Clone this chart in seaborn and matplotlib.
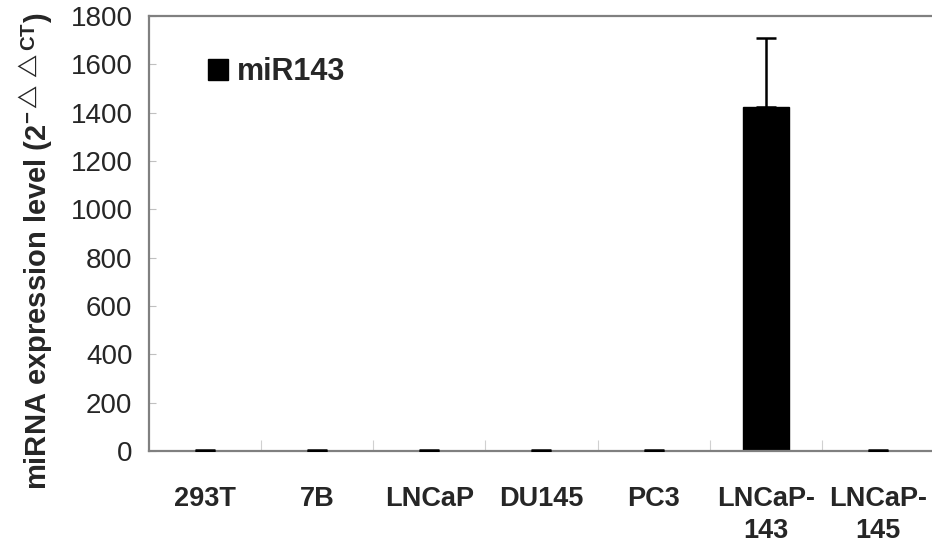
import matplotlib
matplotlib.use("Agg")
import matplotlib.pyplot as plt
import seaborn as sns
import pandas as pd
from matplotlib.ticker import FixedLocator

sns.set_theme(style="white")
plt.rcParams["font.family"] = ["Liberation Sans", "DejaVu Sans"]
plt.rcParams["mathtext.fontset"] = "custom"
plt.rcParams["mathtext.rm"] = "Liberation Sans:bold"
plt.rcParams["mathtext.bf"] = "Liberation Sans:bold"
plt.rcParams["mathtext.it"] = "Liberation Sans:bold"
plt.rcParams["mathtext.sf"] = "Liberation Sans:bold"

# expression data (2^-ddCT)
cell_lines = ["293T", "7B", "LNCaP", "DU145", "PC3", "LNCaP-\n143", "LNCaP-\n145"]
expression = [1.0, 1.0, 1.0, 1.0, 1.0, 1423.0, 1.0]
expression_err = [2.0, 2.0, 2.0, 2.0, 2.0, 286.0, 2.0]
series_name = "miR143"
y_ticks = [0, 200, 400, 600, 800, 1000, 1200, 1400, 1600, 1800]

df = pd.DataFrame({"cell": cell_lines, "value": expression})

fig = plt.figure(figsize=(9.32, 5.46), dpi=100)
ax = fig.add_axes([0.16, 0.174, 0.842, 0.797])

sns.barplot(data=df, x="cell", y="value", color="black", width=0.41,
            errorbar=None, saturation=1, label=series_name, ax=ax)
for p in ax.patches:
    p.set_facecolor("black")
    p.set_edgecolor("black")

positions = list(range(len(cell_lines)))
ax.errorbar(positions, expression,
            yerr=[[0] * len(expression_err), expression_err],
            fmt="none", ecolor="black", elinewidth=1.8, capsize=7, capthick=1.8,
            zorder=3)

ax.set_xlim(-0.5, len(cell_lines) - 0.5)
ax.set_ylim(0, 1800)
ax.yaxis.set_major_locator(FixedLocator(y_ticks))

# category separators along the x axis
ax.xaxis.set_minor_locator(FixedLocator([i + 0.5 for i in range(len(cell_lines) - 1)]))
ax.tick_params(axis="x", which="major", length=0, pad=25, labelsize=19.5)
ax.tick_params(axis="x", which="minor", direction="in", length=8, width=0.8,
               color="#d0d0d0", bottom=True)
ax.tick_params(axis="y", which="major", direction="in", length=5, width=0.8,
               color="#c0c0c0", left=True, labelsize=20, pad=12)
for lbl in ax.get_xticklabels():
    lbl.set_fontweight("bold")
    lbl.set_linespacing(1.3)
    lbl.set_verticalalignment("top")

for side in ["left", "bottom", "top", "right"]:
    ax.spines[side].set_visible(True)
    ax.spines[side].set_color("#808080")
    ax.spines[side].set_linewidth(1.6)

ax.set_xlabel("")
ax.set_ylabel(r"miRNA expression level (2$^{-\triangle\triangle \mathrm{CT}}$)",
              fontsize=21, fontweight="bold")
ax.yaxis.set_label_coords(-0.12, 0.46)

ax.legend(loc="upper left", bbox_to_anchor=(0.04, 0.968), frameon=False,
          prop={"size": 22, "weight": "bold"}, handlelength=0.65,
          handleheight=0.65, handletextpad=0.3)

fig.savefig("out.png", dpi=100, facecolor="white")
